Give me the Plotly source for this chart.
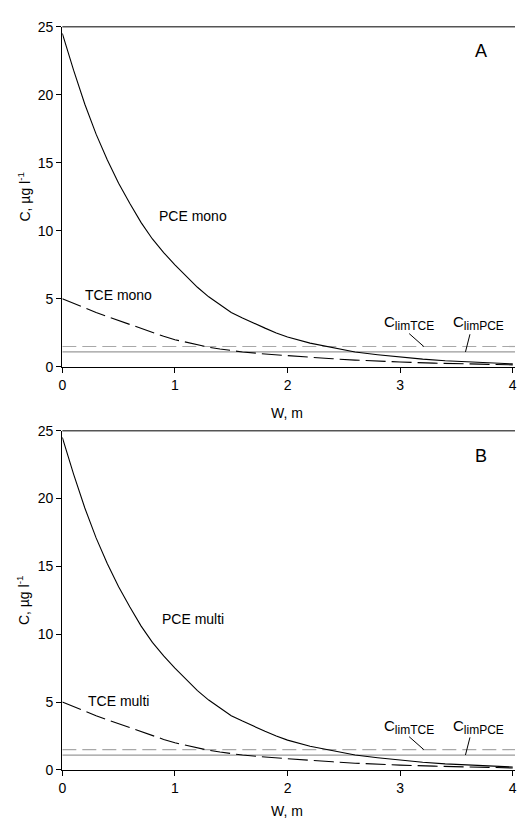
import plotly.graph_objects as go

# ---- data ----
w_pce = [0, 0.1, 0.2, 0.3, 0.4, 0.5, 0.6, 0.7, 0.8, 0.9, 1.0, 1.1, 1.2, 1.3, 1.4, 1.5,
         1.6, 1.7, 1.8, 1.9, 2.0, 2.2, 2.4, 2.6, 2.8, 3.0, 3.2, 3.4, 3.6, 3.8, 4.0]
pce = [24.5, 21.8, 19.3, 17.1, 15.2, 13.5, 12.0, 10.6, 9.4, 8.4, 7.5, 6.65, 5.85, 5.15, 4.55, 4.0,
       3.6, 3.2, 2.85, 2.5, 2.2, 1.75, 1.4, 1.1, 0.9, 0.72, 0.57, 0.45, 0.36, 0.28, 0.22]
w_tce = [0, 0.1, 0.2, 0.3, 0.4, 0.5, 0.6, 0.7, 0.8, 0.9, 1.0, 1.1, 1.2, 1.3, 1.4, 1.5,
         1.6, 1.8, 2.0, 2.2, 2.4, 2.6, 2.8, 3.0, 3.3, 3.6, 4.0]
tce = [5.0, 4.65, 4.3, 4.0, 3.7, 3.4, 3.1, 2.8, 2.5, 2.25, 2.0, 1.8, 1.6, 1.45, 1.32, 1.2,
       1.1, 0.95, 0.82, 0.7, 0.6, 0.5, 0.42, 0.36, 0.28, 0.22, 0.15]
clim_tce = 1.5
clim_pce = 1.1
x_range = [0, 4.02]
y_range = [0, 25]
y_ticks = [0, 5, 10, 15, 20, 25]
x_ticks = [0, 1, 2, 3, 4]

panels = [
    dict(letter="A", pce_lbl="PCE mono", tce_lbl="TCE mono",
         pce_pos=(1.16, 11.1), tce_pos=(0.5, 5.3), letter_pos=(3.72, 23.2)),
    dict(letter="B", pce_lbl="PCE multi", tce_lbl="TCE multi",
         pce_pos=(1.16, 11.1), tce_pos=(0.5, 5.1), letter_pos=(3.72, 23.1)),
]

H = 827
W = 517
domains_px = [(19, 366), (431, 777)]
xtitle_px = [413, 819]

FONT = "Liberation Sans, Arial, sans-serif"
fig = go.Figure()

for i, p in enumerate(panels):
    xa = "x" if i == 0 else "x2"
    ya = "y" if i == 0 else "y2"
    fig.add_trace(go.Scatter(x=[x_range[0], x_range[1]], y=[clim_pce, clim_pce], mode="lines",
                             line=dict(color="#9a9a9a", width=1.2),
                             xaxis=xa, yaxis=ya, showlegend=False))
    fig.add_trace(go.Scatter(x=[x_range[0], x_range[1]], y=[clim_tce, clim_tce], mode="lines",
                             line=dict(color="#a8a8a8", width=1.2, dash="14px,6px"),
                             xaxis=xa, yaxis=ya, showlegend=False))
    fig.add_trace(go.Scatter(x=w_pce, y=pce, mode="lines",
                             line=dict(color="black", width=1.1),
                             xaxis=xa, yaxis=ya, showlegend=False))
    fig.add_trace(go.Scatter(x=w_tce, y=tce, mode="lines",
                             line=dict(color="black", width=1.1, dash="20px,6px"),
                             xaxis=xa, yaxis=ya, showlegend=False))

    top, bot = domains_px[i]
    dom = [1 - bot / H, 1 - top / H]
    axis_common = dict(showline=True, linecolor="black", linewidth=1.2,
                       ticks="outside", ticklen=5, tickcolor="black",
                       showgrid=False, zeroline=False, ticklabeloverflow="allow",
                       tickfont=dict(family=FONT, size=14, color="black"))
    xkey = "xaxis" if i == 0 else "xaxis2"
    ykey = "yaxis" if i == 0 else "yaxis2"
    fig.layout[xkey] = dict(axis_common, domain=[59 / W, 1], range=x_range,
                            tickvals=x_ticks, anchor=ya)
    fig.layout[ykey] = dict(axis_common, domain=dom, range=y_range,
                            tickvals=y_ticks, anchor=xa)
    # top border
    fig.add_shape(type="line", xref="paper", yref="paper",
                  x0=59 / W, x1=1, y0=dom[1], y1=dom[1],
                  line=dict(color="#555", width=1.5))

    txt = dict(family=FONT, size=14, color="black")
    fig.add_annotation(x=p["pce_pos"][0], y=p["pce_pos"][1], xref=xa, yref=ya,
                       text=p["pce_lbl"], showarrow=False, font=txt)
    fig.add_annotation(x=p["tce_pos"][0], y=p["tce_pos"][1], xref=xa, yref=ya,
                       text=p["tce_lbl"], showarrow=False, font=txt)
    fig.add_annotation(x=p["letter_pos"][0], y=p["letter_pos"][1], xref=xa, yref=ya,
                       text=p["letter"], showarrow=False,
                       font=dict(family=FONT, size=18, color="black"))
    fig.add_annotation(x=3.08, y=3.2, xref=xa, yref=ya,
                       text="C<sub><span style='font-size:12px'>limTCE</span></sub>",
                       showarrow=False, font=dict(family=FONT, size=15, color="black"))
    fig.add_annotation(x=3.70, y=3.2, xref=xa, yref=ya,
                       text="C<sub><span style='font-size:12px'>limPCE</span></sub>",
                       showarrow=False, font=dict(family=FONT, size=15, color="black"))
    fig.add_shape(type="line", xref=xa, yref=ya, x0=3.08, y0=2.45, x1=3.21, y1=clim_tce,
                  line=dict(color="black", width=1))
    fig.add_shape(type="line", xref=xa, yref=ya, x0=3.62, y0=2.4, x1=3.58, y1=clim_pce,
                  line=dict(color="black", width=1))

    # axis titles
    ymid = 1 - (top + bot) / 2 / H
    fig.add_annotation(x=20 / W, y=ymid, xref="paper", yref="paper",
                       xanchor="center", yanchor="middle",
                       text="C, µg l<sup>-1</sup>", textangle=-90, showarrow=False,
                       font=dict(family=FONT, size=14, color="black"))
    fig.add_annotation(x=286 / W, y=1 - xtitle_px[i] / H, xref="paper", yref="paper",
                       xanchor="center", yanchor="middle", text="W, m", showarrow=False,
                       font=dict(family=FONT, size=14, color="black"))

fig.update_layout(width=W, height=H, margin=dict(l=0, r=0, t=0, b=0),
                  plot_bgcolor="white", paper_bgcolor="white")
fig.write_html("out.html")
